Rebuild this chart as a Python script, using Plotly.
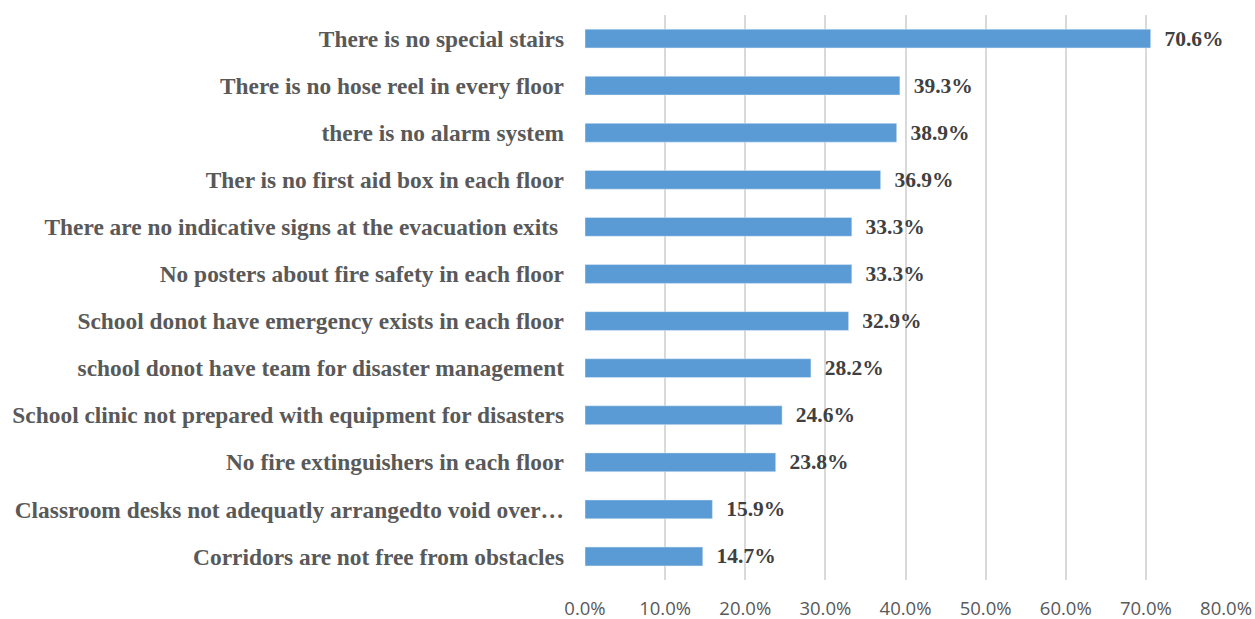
import plotly.graph_objects as go

categories = [
    "There is no special stairs",
    "There is no hose reel in every floor",
    "there is no alarm system",
    "Ther is no first aid box in each floor",
    "There are no indicative signs at the evacuation exits ",
    "No posters about fire safety in each floor",
    "School donot have emergency exists in each floor",
    "school donot have team for disaster management",
    "School clinic not prepared with equipment for disasters",
    "No fire extinguishers in each floor",
    "Classroom desks not adequatly arrangedto void over…",
    "Corridors are not free from obstacles",
]
values = [0.706, 0.393, 0.389, 0.369, 0.333, 0.333, 0.329, 0.282, 0.246, 0.238, 0.159, 0.147]
x_ticks = [0, 0.1, 0.2, 0.3, 0.4, 0.5, 0.6, 0.7, 0.8]

fig = go.Figure(go.Bar(
    x=values,
    y=categories,
    orientation="h",
    marker=dict(color="#5B9BD5"),
    text=[f"\u00a0\u00a0{v*100:.1f}%" for v in values],
    textposition="outside",
    constraintext="none",
    cliponaxis=False,
    textfont=dict(family="Liberation Serif", size=21.5, color="#404040", weight="bold"),
))

fig.update_layout(
    width=1255, height=619,
    margin=dict(l=585, r=29, t=15, b=39),
    paper_bgcolor="white", plot_bgcolor="white",
    bargap=0.6,
    showlegend=False,
    xaxis=dict(
        range=[0, 0.8],
        tickvals=x_ticks,
        tickformat=".1%",
        showgrid=True, gridcolor="#d9d9d9", gridwidth=1.5,
        zeroline=False, showline=False,
        tickfont=dict(family="Open Sans", size=18.5, color="#595959"),
        ticklabelstandoff=15,
        automargin=False,
    ),
    yaxis=dict(
        autorange="reversed",
        showgrid=False, zeroline=False, showline=False,
        tickfont=dict(family="Liberation Serif", size=23.4, color="#595959", weight="bold"),
        ticklabelstandoff=20,
        automargin=False,
    ),
)

fig.write_html("out.html")
